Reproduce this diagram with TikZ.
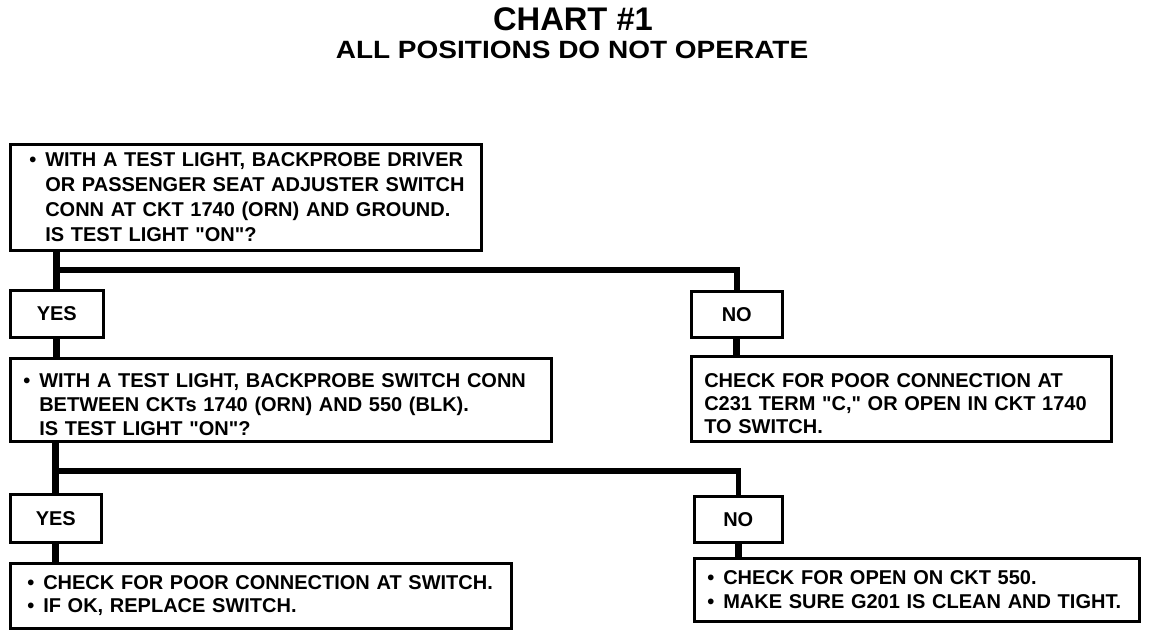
\documentclass[tikz,border=0pt]{standalone}
\usepackage{fontspec}
\setmainfont{Liberation Sans}
\newfontfamily\subfam{Liberation Sans}[FakeStretch=1.12]
\newcommand\bodyfont{\fontsize{20}{24.5}\selectfont\bfseries}
\newcommand\bul{\makebox[16pt][l]{•}}
\newcommand\qq{\textquotedbl}
\newcommand\lift[1]{\rule{0pt}{#1}}
\begin{document}
\begin{tikzpicture}[x=1pt,y=-1pt,
  box/.style={draw, line width=2.6pt, anchor=north west, inner xsep=0pt, inner ysep=0pt, align=left, font=\bodyfont},
  tag/.style={draw, line width=2.6pt, anchor=north west, inner sep=0pt, font=\bodyfont},
  stem/.style={line width=7pt},
  barline/.style={line width=5.5pt, line join=miter},
]
\useasboundingbox (0,0) rectangle (1152,634);
\node (title) at (573,19) {\fontsize{32.7}{36}\selectfont\bfseries CHART \#1};
\node (subtitle) at (572,50) {\subfam\fontsize{25}{28}\selectfont\bfseries ALL POSITIONS DO NOT OPERATE};

\node[box, text width=471pt, minimum height=106pt] (q1) at (9,143)
  {\hspace*{19pt}\bul WITH A TEST LIGHT, BACKPROBE DRIVER\\[0.5pt]
   \hspace*{35pt}OR PASSENGER SEAT ADJUSTER SWITCH\\[0.5pt]
   \hspace*{35pt}CONN AT CKT 1740 (ORN) AND GROUND.\\[0.5pt]
   \hspace*{35pt}IS TEST LIGHT \qq ON\qq?};
\node[tag, minimum width=93pt, minimum height=47pt] (yes1) at (9,289) {YES};
\node[tag, minimum width=91pt, minimum height=46pt] (no1) at (690,290) {NO};
\node[box, text width=541pt, minimum height=83pt] (q2) at (9,357)
  {\lift{24pt}\hspace*{13pt}\bul WITH A TEST LIGHT, BACKPROBE SWITCH CONN\\[-0.5pt]
   \hspace*{29pt}BETWEEN CKTs 1740 (ORN) AND 550 (BLK).\\[-0.5pt]
   \hspace*{29pt}IS TEST LIGHT \qq ON\qq?};
\node[box, text width=420pt, minimum height=85pt] (r1) at (690,355)
  {\lift{23pt}\hspace*{13pt}CHECK FOR POOR CONNECTION AT\\[-1.5pt]
   \hspace*{13pt}C231 TERM \qq C,\qq{} OR OPEN IN CKT 1740\\[-1.5pt]
   \hspace*{13pt}TO SWITCH.};
\node[tag, minimum width=91pt, minimum height=48pt] (yes2) at (9,493) {YES};
\node[tag, minimum width=88pt, minimum height=46pt] (no2) at (693,495) {NO};
\node[box, text width=501pt, minimum height=65pt] (r2) at (9,562)
  {\hspace*{17pt}\bul CHECK FOR POOR CONNECTION AT SWITCH.\\[-1pt]
   \hspace*{17pt}\bul IF OK, REPLACE SWITCH.};
\node[box, text width=445pt, minimum height=63pt] (r3) at (693,557)
  {\hspace*{13pt}\bul CHECK FOR OPEN ON CKT 550.\\[-1pt]
   \hspace*{13pt}\bul MAKE SURE G201 IS CLEAN AND TIGHT.};

\coordinate (bar1) at (0,270);
\coordinate (bar2) at (0,471);
\draw[stem] (yes1.north |- q1.south) -- (yes1.north);
\draw[barline] (yes1.north |- bar1) -| (no1.north);
\draw[stem] (yes1.south) -- (yes1.south |- q2.north);
\draw[stem] (no1.south) -- (no1.south |- r1.north);
\draw[stem] (yes2.north |- q2.south) -- (yes2.north);
\draw[barline] (yes2.north |- bar2) -| (no2.north);
\draw[stem] (yes2.south) -- (yes2.south |- r2.north);
\draw[stem] (no2.south) -- (no2.south |- r3.north);
\end{tikzpicture}
\end{document}
